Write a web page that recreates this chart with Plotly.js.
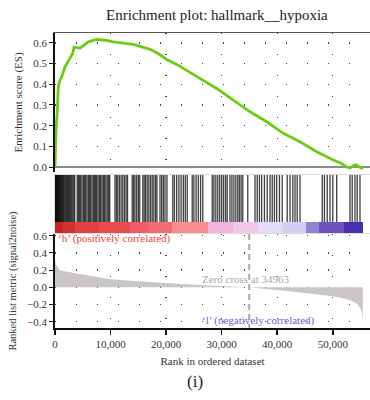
<!DOCTYPE html>
<html>
<head>
<meta charset="utf-8">
<script src="https://cdn.plot.ly/plotly-3.0.1.min.js"></script>
<style>html,body{margin:0;padding:0;background:#fff;}#chart{width:370px;height:400px;}</style>
</head>
<body>
<div id="chart"></div>
<script>
// Running enrichment score
const esRank = [0,180,420,600,900,1200,1800,2400,2880,3200,3420,3800,4500,5000,6000,7500,9000,10500,12000,14100,15500,17100,18500,20100,22000,23700,26000,29100,32100,35100,38100,41100,44100,47100,50100,51500,52500,53100,53800,54300,54800,55200,55400];
const esValue = [0,0.18,0.275,0.39,0.42,0.436,0.485,0.51,0.535,0.55,0.58,0.578,0.575,0.585,0.605,0.617,0.613,0.605,0.6,0.593,0.582,0.569,0.55,0.52,0.495,0.469,0.43,0.38,0.324,0.267,0.219,0.163,0.122,0.074,0.034,0.018,0.0,-0.005,0.008,0.01,0.0,-0.005,0];

// Gene set hit positions (ranks)
const hitRanks = [0,60,130,200,280,350,430,520,600,700,800,900,1000,1120,1250,1380,1500,1650,1800,1950,2100,2280,2450,2600,2800,3000,3200,3400,3550,
4000,4200,4400,4600,4850,5100,5300,5500,5750,6000,6200,6400,6650,6900,7100,7300,7500,7750,8000,8200,8450,8700,8900,9150,9400,9650,9850,
10800,11050,11300,11600,11900,12200,12500,12800,13050,
13900,14150,14400,14700,15000,15250,
15800,16050,16300,16600,16900,17200,17500,17800,18100,18350,
18900,19200,19500,19800,20150,
21200,21500,21900,22300,22700,23100,23450,23800,
24700,25000,25400,25800,26200,26600,
28300,28600,28950,29300,29650,30000,30350,30700,31000,
31500,31850,32200,32550,32900,33200,33500,33800,
34700,
36000,36400,36800,37200,37700,38200,
38700,39100,39500,39900,40400,40900,
41800,42300,42800,43200,43600,44100,
48100,48500,49000,49500,
50000,50700,
53100,53500,54000,54400,54900];

// Colour bar segments (rank start, rank end, colour)
const barStart = [0,1500,3600,8000,13500,17000,21000,27500,32000,36500,41000,45200,47500,52000];
const barEnd   = [1500,3600,8000,13500,17000,21000,27500,32000,36500,41000,45200,47500,52000,55400];
const barColor = ['#c42424','#d23232','#e04242','#e84c4c','#f05c68','#f46c74','#fa8c8c','#f2b4de','#f0c6ea','#e2dcf6','#d6cef2','#8e84d6','#6c54c0','#4a2eb0'];

// Ranked list metric
const metricRank = [0,150,400,900,1500,3000,5000,7500,10000,15000,20000,25000,30000,34963,38000,40000,45000,50000,52000,53500,54500,55000,55300,55400];
const metricValue = [0.32,0.27,0.24,0.2,0.19,0.175,0.15,0.12,0.095,0.07,0.047,0.03,0.015,0,-0.02,-0.03,-0.065,-0.105,-0.13,-0.16,-0.2,-0.25,-0.32,-0.42];

const zeroCross = 34963;
const titleText = 'Enrichment plot: hallmark__hypoxia';

const hitX = [], hitY = [];
hitRanks.forEach(r => { hitX.push(r, r, null); hitY.push(0.19, 1, null); });

const FONT = 'Liberation Serif, DejaVu Serif, serif';

const traces = [
  {x: metricRank, y: metricValue, type: 'scatter', mode: 'lines', fill: 'tozeroy',
   fillcolor: '#cac6c6', line: {width: 0, color: '#cac6c6'}, xaxis: 'x', yaxis: 'y', hoverinfo: 'skip'},
  {x: [zeroCross, zeroCross], y: [0.62, -0.473], type: 'scatter', mode: 'lines',
   line: {color: '#a8a8a8', width: 2, dash: '6px,4px'}, xaxis: 'x', yaxis: 'y'},
  {x: hitX, y: hitY, type: 'scatter', mode: 'lines', line: {color: 'rgba(10,10,10,0.78)', width: 1.3},
   xaxis: 'x2', yaxis: 'y2', connectgaps: false},
  {x: barStart.map((s, i) => (s + barEnd[i]) / 2), width: barStart.map((s, i) => barEnd[i] - s),
   y: barStart.map(() => 0.19), base: 0, type: 'bar', marker: {color: barColor, line: {width: 0}},
   xaxis: 'x2', yaxis: 'y2'},
  {x: esRank, y: esValue, type: 'scatter', mode: 'lines', line: {color: '#6ccc14', width: 2.8},
   xaxis: 'x3', yaxis: 'y3'}
];

const grid = {showgrid: true, gridcolor: '#444', griddash: '1px,20px', gridwidth: 1.3};
const XR = [0, 56700];

const layout = {
  width: 370, height: 400,
  margin: {l: 55, r: 0, t: 33, b: 72},
  paper_bgcolor: '#fff', plot_bgcolor: '#fff',
  showlegend: false,
  font: {family: FONT, color: '#333', size: 11},
  title: {text: titleText, font: {family: FONT, size: 15, color: '#222'},
          x: 0.514, xref: 'paper', xanchor: 'center', y: 0.962, yref: 'container', yanchor: 'middle'},
  xaxis: Object.assign({}, grid, {domain: [0, 1], range: XR, anchor: 'y', dtick: 10000, tick0: 0,
    tickformat: ',d', showline: true, linecolor: '#111', linewidth: 2, ticks: 'outside', ticklen: 5,
    tickwidth: 1.5, tickcolor: '#111', zeroline: false, tickfont: {size: 11, color: '#333'},
    title: {text: 'Rank in ordered dataset', font: {size: 11, color: '#333'}, standoff: 8}}),
  yaxis: Object.assign({}, grid, {domain: [0, 0.3186], range: [-0.473, 0.62], anchor: 'x',
    tickvals: [-0.4, -0.2, 0, 0.2, 0.4, 0.6], tickformat: '.1f', showline: true, linecolor: '#111',
    linewidth: 1.8, ticks: 'outside', ticklen: 4, tickcolor: '#111', zeroline: false,
    title: {text: 'Ranked list metric (signal2noise)', font: {size: 10.5, color: '#333'}, standoff: 8}}),
  xaxis2: {domain: [0, 1], range: XR, anchor: 'y2', showgrid: false, showticklabels: false, ticks: '',
    showline: true, mirror: true, linecolor: '#dcdcdc', linewidth: 1, zeroline: false},
  yaxis2: {domain: [0.322, 0.5186], range: [0, 1], anchor: 'x2', showgrid: false, showticklabels: false,
    ticks: '', showline: true, mirror: true, linecolor: '#dcdcdc', linewidth: 1, zeroline: false},
  xaxis3: Object.assign({}, grid, {domain: [0, 1], range: XR, anchor: 'y3', side: 'top', dtick: 10000,
    tick0: 0, showticklabels: false, ticks: '', showline: true, linecolor: '#555', linewidth: 1.2,
    zeroline: false}),
  yaxis3: Object.assign({}, grid, {domain: [0.5288, 1], range: [-0.024, 0.648], anchor: 'x3',
    tickvals: [0, 0.1, 0.2, 0.3, 0.4, 0.5, 0.6], tickformat: '.1f', showline: true, linecolor: '#111',
    linewidth: 1.8, ticks: 'outside', ticklen: 4, tickcolor: '#111', zeroline: true,
    zerolinecolor: '#8c8c8c', zerolinewidth: 2,
    title: {text: 'Enrichment score (ES)', font: {size: 11, color: '#333'}, standoff: 8}}),
  bargap: 0,
  annotations: [
    {text: '‘h’ (positively correlated)', xref: 'x', yref: 'y', x: 200, y: 0.57, xanchor: 'left',
     yanchor: 'middle', showarrow: false, font: {size: 11, color: '#e8453c'}},
    {text: 'Zero cross at 34963', xref: 'x', yref: 'y', x: 34400, y: 0.1, xanchor: 'center',
     yanchor: 'middle', showarrow: false, font: {size: 11, color: '#a8a8a8'}},
    {text: '‘l’ (negatively correlated)', xref: 'x', yref: 'y', x: 36700, y: -0.385, xanchor: 'center',
     yanchor: 'middle', showarrow: false, font: {size: 11, color: '#6464c8'}},
    {text: '(i)', xref: 'paper', yref: 'paper', x: 0.444, y: -0.183, xanchor: 'center',
     yanchor: 'middle', showarrow: false, font: {size: 17, color: '#222'}}
  ]
};

Plotly.newPlot('chart', traces, layout, {displayModeBar: false, staticPlot: true});
</script>
</body>
</html>
